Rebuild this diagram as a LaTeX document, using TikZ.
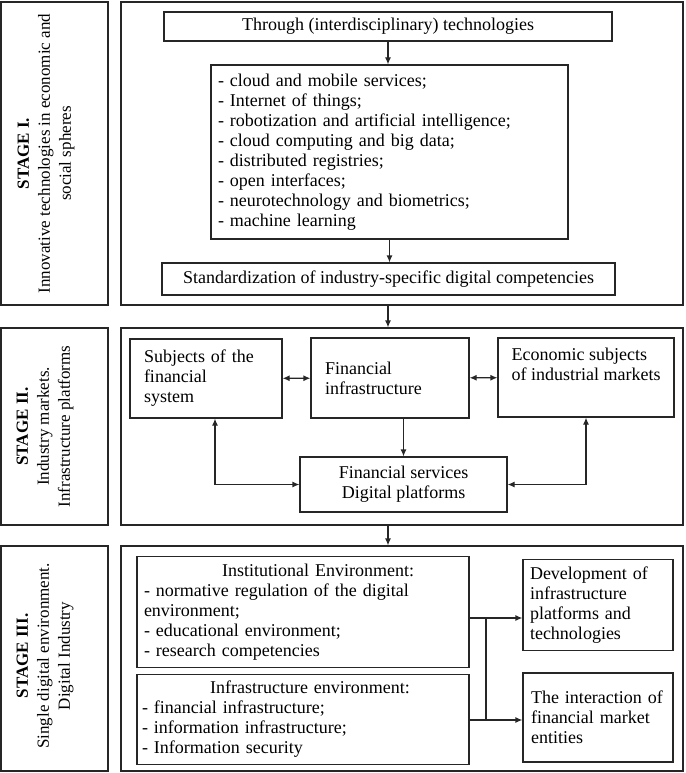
\documentclass[tikz,border=0pt]{standalone}
\usepackage{fontspec}
\setmainfont{Liberation Serif}
\usetikzlibrary{arrows.meta}
\begin{document}
\begin{tikzpicture}[x=1pt, y=-1pt, line width=1.2pt, draw=black!85,
  box/.style={draw, rectangle, inner sep=7pt, font=\fontsize{18}{20}\selectfont},
  stagetext/.style={rotate=90, align=center, font=\fontsize{17}{21}\selectfont},
  arr/.style={-{Latex[length=7pt,width=6pt]}},
  dbl/.style={{Latex[length=7pt,width=6pt]}-{Latex[length=7pt,width=6pt]}}]
\useasboundingbox (0,0) rectangle (685,773);

\node (stageone) [box, minimum width=107pt, minimum height=303pt] at (54.5,153.5) {};
\node (mainone) [box, minimum width=562pt, minimum height=303pt] at (402,153.5) {};
\node (stageonetext) [stagetext] at (46,153.5) {\textbf{STAGE I.}\\Innovative technologies in economic and\\social spheres};

\node (stagetwo) [box, minimum width=107pt, minimum height=197pt] at (54.5,426.5) {};
\node (maintwo) [box, minimum width=562pt, minimum height=197pt] at (402,426.5) {};
\node (stagetwotext) [stagetext] at (45,426.5) {\textbf{STAGE II.}\\Industry markets.\\Infrastructure platforms};

\node (stagethree) [box, minimum width=107pt, minimum height=225pt] at (54.5,658.5) {};
\node (mainthree) [box, minimum width=562pt, minimum height=225pt] at (402,658.5) {};
\node (stagethreetext) [stagetext] at (45,656) {\textbf{STAGE III.}\\Single digital environment.\\Digital Industry};

\node (through) [box, minimum width=448pt, minimum height=29pt, inner sep=0pt] at (388,26.5) {Through (interdisciplinary) technologies};
\node (techlist) [box, minimum height=174pt, text width=343pt, align=left] at (389.5,152) {- cloud and mobile services;\\- Internet of things;\\- robotization and artificial intelligence;\\- cloud computing and big data;\\- distributed registries;\\- open interfaces;\\- neurotechnology and biometrics;\\- machine learning};
\node (standard) [box, minimum width=453pt, minimum height=32pt, inner sep=0pt] at (388.5,279) {Standardization of industry-specific digital competencies};
\draw [arr] (through) -- (through |- techlist.north);
\draw [arr] (techlist) -- (techlist |- standard.north);
\draw [arr] (through |- mainone.south) -- (through |- maintwo.north);

\node (subjects) [box, minimum height=79pt, inner xsep=14pt, text width=124pt, align=left] at (206,378.5) {Subjects of the\\financial\\system};
\node (fininfra) [box, minimum height=80pt, inner xsep=14pt, text width=130pt, align=left] at (390,378) {Financial\\infrastructure\\[10pt]};
\node (economic) [box, minimum width=176pt, minimum height=79pt, align=left] at (586,377.5) {Economic subjects\\of industrial markets\\[6pt]};
\node (finserv) [box, minimum width=207pt, minimum height=55pt, align=center] at (403.5,484.5) {Financial services\\Digital platforms};
\draw [dbl] (subjects) -- (fininfra);
\draw [dbl] (fininfra) -- (economic);
\draw [arr] (finserv.north |- fininfra.south) -- (finserv.north);
\draw [dbl] ([xshift=9pt]subjects.south) |- (finserv.west);
\draw [dbl] (economic.south) |- (finserv.east);
\draw [arr] (through |- maintwo.south) -- (through |- mainthree.north);

\node (institutional) [box, minimum height=106pt, text width=318pt, align=left] at (303,612) {\makebox[318pt]{\hspace{30pt}Institutional Environment:}\\- normative regulation of the digital\\environment;\\- educational environment;\\- research competencies};
\node (infrastructure) [box, minimum height=87pt, inner xsep=5pt, text width=322pt, align=left] at (303,719.5) {\makebox[322pt]{\hspace{14pt}Infrastructure environment:}\\- financial infrastructure;\\- information infrastructure;\\- Information security};
\node (development) [box, minimum height=84pt, text width=136pt, align=left] at (598,605) {Development of\\infrastructure\\platforms and\\technologies};
\node (interaction) [box, minimum height=89pt, inner xsep=8pt, text width=134pt, align=left] at (598,717.5) {The interaction of\\financial market\\entities};
\coordinate (bustop) at (486,618);
\coordinate (busbottom) at (486,720);
\draw [arr] (institutional.east |- bustop) -- (development.west |- bustop);
\draw [arr] (infrastructure.east |- busbottom) -- (interaction.west |- busbottom);
\draw (bustop) -- (busbottom);
\end{tikzpicture}
\end{document}
